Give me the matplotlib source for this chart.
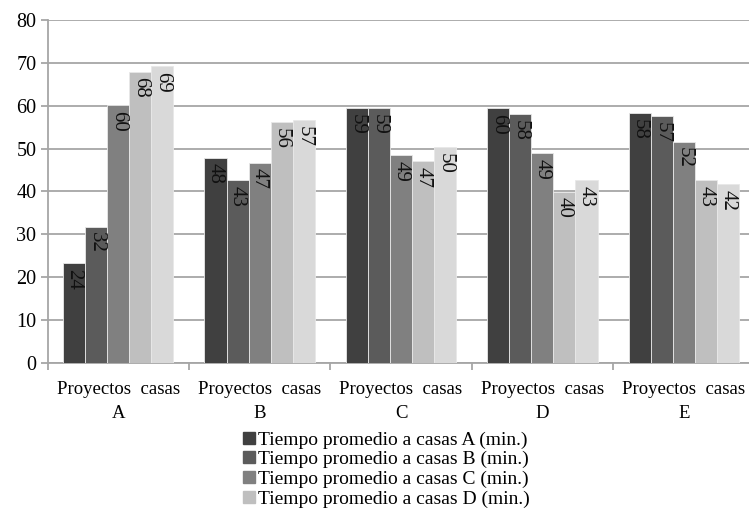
import matplotlib
matplotlib.use("Agg")
import matplotlib.pyplot as plt
import numpy as np
from matplotlib.lines import Line2D

categories = ["Proyectos  casas\nA", "Proyectos  casas\nB", "Proyectos  casas\nC",
              "Proyectos  casas\nD", "Proyectos  casas\nE"]
series_names = ["Tiempo promedio a casas A (min.)", "Tiempo promedio a casas B (min.)",
                "Tiempo promedio a casas C (min.)", "Tiempo promedio a casas D (min.)",
                "Tiempo promedio a casas E (min.)"]
# values per series (series = bar position within group), across categories A..E
s1 = [23.3, 47.9, 59.4, 59.4, 58.3]
s2 = [31.8, 42.6, 59.4, 58.0, 57.5]
s3 = [60.1, 46.7, 48.5, 48.9, 51.6]
s4 = [67.9, 56.2, 47.1, 39.9, 42.6]
s5 = [69.2, 56.6, 50.3, 42.6, 41.7]
labels1 = ["24", "48", "59", "60", "58"]
labels2 = ["32", "43", "59", "58", "57"]
labels3 = ["60", "47", "49", "49", "52"]
labels4 = ["68", "56", "47", "40", "43"]
labels5 = ["69", "57", "50", "43", "42"]

series = [s1, s2, s3, s4, s5]
labels = [labels1, labels2, labels3, labels4, labels5]
colors = ["#404040", "#5b5b5b", "#808080", "#bfbfbf", "#d9d9d9"]

plt.rcParams['font.family'] = ['Liberation Serif', 'DejaVu Serif']

fig = plt.figure(figsize=(7.49, 5.09), dpi=100)
ax = fig.add_axes([47.5/749, (509-363)/509, 707/749, (363-20)/509])

x = np.arange(len(categories))
w = 0.156
for i, (vals, labs) in enumerate(zip(series, labels)):
    pos = x + (i - 2) * w
    ax.bar(pos, vals, width=w, color=colors[i], edgecolor="#e8e8e8", linewidth=0.6, zorder=3)
    for p, v, t in zip(pos, vals, labs):
        ax.annotate(t, (p, v), xytext=(0, -4), textcoords="offset points",
                    rotation=270, ha="center", va="top", fontsize=15, color="#111111", zorder=4)

ax.set_xlim(-0.5, 4.5)
ax.set_ylim(0, 80)
ax.set_yticks(range(0, 81, 10))
ax.yaxis.grid(True, color="#a6a6a6", linewidth=1.3, zorder=0)
ax.set_axisbelow(True)
ax.set_xticks(x)
ax.set_xticklabels(categories, fontsize=13.5, linespacing=1.55)
ax.set_xticks(np.arange(-0.5, 5.0, 1.0), minor=True)
ax.tick_params(axis="x", which="major", length=0, pad=13)
ax.tick_params(axis="x", which="minor", length=5, color="#a6a6a6", width=1.3)
ax.tick_params(axis="y", length=5, color="#a6a6a6", width=1.3, labelsize=14.5, pad=3)
for sp in ["top", "right"]:
    ax.spines[sp].set_visible(False)
for sp in ["left", "bottom"]:
    ax.spines[sp].set_color("#a6a6a6")
    ax.spines[sp].set_linewidth(1.3)

handles = [Line2D([0], [0], marker="s", linestyle="none", markersize=8,
                  markerfacecolor=colors[i], markeredgecolor=colors[i]) for i in range(4)]
fig.legend(handles, series_names[:4], loc="upper left", bbox_to_anchor=(241/749, 1 - 431/509),
           frameon=False, fontsize=14, handletextpad=0.05, labelspacing=0.1,
           handlelength=0.8, borderpad=0, borderaxespad=0)

fig.savefig("out.png", dpi=100)
